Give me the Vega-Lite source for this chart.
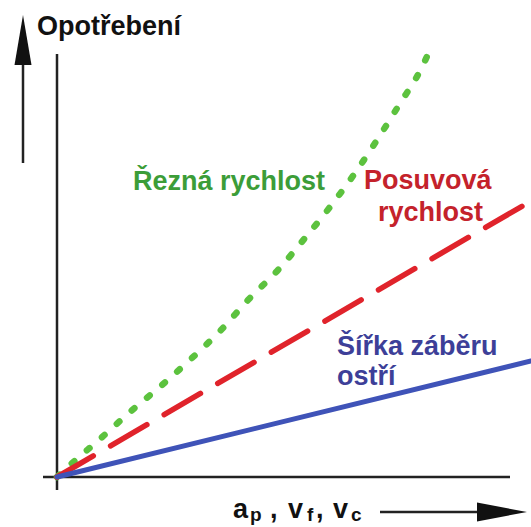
{
  "$schema": "https://vega.github.io/schema/vega-lite/v6.json",
  "width": 531,
  "height": 527,
  "autosize": "none",
  "padding": 0,
  "background": "white",
  "config": {"view": {"stroke": null}},
  "datasets": {
    "curves": [
      {"series": "Řezná rychlost", "x": 0, "y": 0},
      {"series": "Řezná rychlost", "x": 13, "y": 12},
      {"series": "Řezná rychlost", "x": 43, "y": 38},
      {"series": "Řezná rychlost", "x": 73, "y": 65},
      {"series": "Řezná rychlost", "x": 105, "y": 92},
      {"series": "Řezná rychlost", "x": 135, "y": 119},
      {"series": "Řezná rychlost", "x": 165, "y": 148},
      {"series": "Řezná rychlost", "x": 191, "y": 177},
      {"series": "Řezná rychlost", "x": 221, "y": 207},
      {"series": "Řezná rychlost", "x": 248, "y": 239},
      {"series": "Řezná rychlost", "x": 273, "y": 270},
      {"series": "Řezná rychlost", "x": 298, "y": 304},
      {"series": "Řezná rychlost", "x": 320, "y": 337},
      {"series": "Řezná rychlost", "x": 342, "y": 372},
      {"series": "Řezná rychlost", "x": 364, "y": 408},
      {"series": "Řezná rychlost", "x": 373, "y": 427},
      {"series": "Posuvová rychlost", "x": 0, "y": 0},
      {"series": "Posuvová rychlost", "x": 474, "y": 276},
      {"series": "Šířka záběru ostří", "x": 0, "y": 0},
      {"series": "Šířka záběru ostří", "x": 474, "y": 116}
    ],
    "rules": [
      {"x": 0, "x2": 0, "y": -13, "y2": 423},
      {"x": -14, "x2": 453, "y": 0, "y2": 0},
      {"x": -34, "x2": -34, "y": 314, "y2": 415},
      {"x": 323, "x2": 452, "y": -35, "y2": -35}
    ],
    "headsUp": [{"x": -34, "y": 437}],
    "headsRight": [{"x": 445, "y": -35}],
    "labels": [
      {"text": "Opotřebení", "series": "axis", "x": -20, "y": 442},
      {"text": "Řezná rychlost", "series": "green", "x": 76, "y": 287},
      {"text": "Posuvová", "series": "red", "x": 307, "y": 288},
      {"text": "rychlost", "series": "red", "x": 321, "y": 256},
      {"text": "Šířka záběru", "series": "blue", "x": 280, "y": 122},
      {"text": "ostří", "series": "blue", "x": 280, "y": 92}
    ],
    "xmain": [
      {"text": "a", "x": 176, "y": -41},
      {"text": ",", "x": 213, "y": -41},
      {"text": "v", "x": 231, "y": -41},
      {"text": ",", "x": 259, "y": -41},
      {"text": "v", "x": 276, "y": -41}
    ],
    "xsub": [
      {"text": "p", "x": 193, "y": -44},
      {"text": "f", "x": 250, "y": -44},
      {"text": "c", "x": 294, "y": -44}
    ]
  },
  "layer": [
    {
      "data": {"name": "rules"},
      "mark": {"type": "rule", "color": "#222222", "strokeWidth": 2.5},
      "encoding": {
        "x": {"field": "x", "type": "quantitative", "scale": {"domain": [-57, 474], "nice": false, "zero": false}, "axis": null},
        "x2": {"field": "x2"},
        "y": {"field": "y", "type": "quantitative", "scale": {"domain": [-50, 477], "nice": false, "zero": false}, "axis": null},
        "y2": {"field": "y2"}
      }
    },
    {
      "data": {"name": "headsUp"},
      "mark": {"type": "point", "shape": "M0,-1L0.34,1L-0.34,1Z", "size": 2500, "filled": true, "color": "#111111", "opacity": 1, "strokeWidth": 0},
      "encoding": {
        "x": {"field": "x", "type": "quantitative", "scale": {"domain": [-57, 474], "nice": false, "zero": false}, "axis": null},
        "y": {"field": "y", "type": "quantitative", "scale": {"domain": [-50, 477], "nice": false, "zero": false}, "axis": null}
      }
    },
    {
      "data": {"name": "headsRight"},
      "mark": {"type": "point", "shape": "M1,0L-1,-0.38L-1,0.38Z", "size": 2500, "filled": true, "color": "#111111", "opacity": 1, "strokeWidth": 0},
      "encoding": {
        "x": {"field": "x", "type": "quantitative", "scale": {"domain": [-57, 474], "nice": false, "zero": false}, "axis": null},
        "y": {"field": "y", "type": "quantitative", "scale": {"domain": [-50, 477], "nice": false, "zero": false}, "axis": null}
      }
    },
    {
      "data": {"name": "curves"},
      "transform": [{"filter": "datum.series === 'Řezná rychlost'"}],
      "mark": {"type": "line", "color": "#5cc23e", "strokeWidth": 6.5, "strokeDash": [3.5, 16.5], "strokeCap": "round", "interpolate": "monotone"},
      "encoding": {
        "x": {"field": "x", "type": "quantitative", "scale": {"domain": [-57, 474], "nice": false, "zero": false}, "axis": null},
        "y": {"field": "y", "type": "quantitative", "scale": {"domain": [-50, 477], "nice": false, "zero": false}, "axis": null}
      }
    },
    {
      "data": {"name": "curves"},
      "transform": [{"filter": "datum.series === 'Posuvová rychlost'"}],
      "mark": {"type": "line", "color": "#e0232b", "strokeWidth": 5.5, "strokeDash": [42, 20], "strokeCap": "round"},
      "encoding": {
        "x": {"field": "x", "type": "quantitative", "scale": {"domain": [-57, 474], "nice": false, "zero": false}, "axis": null},
        "y": {"field": "y", "type": "quantitative", "scale": {"domain": [-50, 477], "nice": false, "zero": false}, "axis": null}
      }
    },
    {
      "data": {"name": "curves"},
      "transform": [{"filter": "datum.series === 'Šířka záběru ostří'"}],
      "mark": {"type": "line", "color": "#3f53b8", "strokeWidth": 5, "strokeCap": "round"},
      "encoding": {
        "x": {"field": "x", "type": "quantitative", "scale": {"domain": [-57, 474], "nice": false, "zero": false}, "axis": null},
        "y": {"field": "y", "type": "quantitative", "scale": {"domain": [-50, 477], "nice": false, "zero": false}, "axis": null}
      }
    },
    {
      "data": {"name": "labels"},
      "mark": {"type": "text", "font": "Liberation Sans", "fontWeight": "bold", "fontSize": 27, "align": "left", "baseline": "alphabetic"},
      "encoding": {
        "x": {"field": "x", "type": "quantitative", "scale": {"domain": [-57, 474], "nice": false, "zero": false}, "axis": null},
        "y": {"field": "y", "type": "quantitative", "scale": {"domain": [-50, 477], "nice": false, "zero": false}, "axis": null},
        "text": {"field": "text"},
        "color": {"field": "series", "type": "nominal", "scale": {"domain": ["axis", "green", "red", "blue"], "range": ["#111111", "#3c9d38", "#c4222b", "#3d3f98"]}, "legend": null}
      }
    },
    {
      "data": {"name": "xmain"},
      "mark": {"type": "text", "font": "Liberation Sans", "fontWeight": "bold", "fontSize": 27, "align": "left", "baseline": "alphabetic", "color": "#111111"},
      "encoding": {
        "x": {"field": "x", "type": "quantitative", "scale": {"domain": [-57, 474], "nice": false, "zero": false}, "axis": null},
        "y": {"field": "y", "type": "quantitative", "scale": {"domain": [-50, 477], "nice": false, "zero": false}, "axis": null},
        "text": {"field": "text"}
      }
    },
    {
      "data": {"name": "xsub"},
      "mark": {"type": "text", "font": "Liberation Sans", "fontWeight": "bold", "fontSize": 19, "align": "left", "baseline": "alphabetic", "color": "#111111"},
      "encoding": {
        "x": {"field": "x", "type": "quantitative", "scale": {"domain": [-57, 474], "nice": false, "zero": false}, "axis": null},
        "y": {"field": "y", "type": "quantitative", "scale": {"domain": [-50, 477], "nice": false, "zero": false}, "axis": null},
        "text": {"field": "text"}
      }
    }
  ]
}
